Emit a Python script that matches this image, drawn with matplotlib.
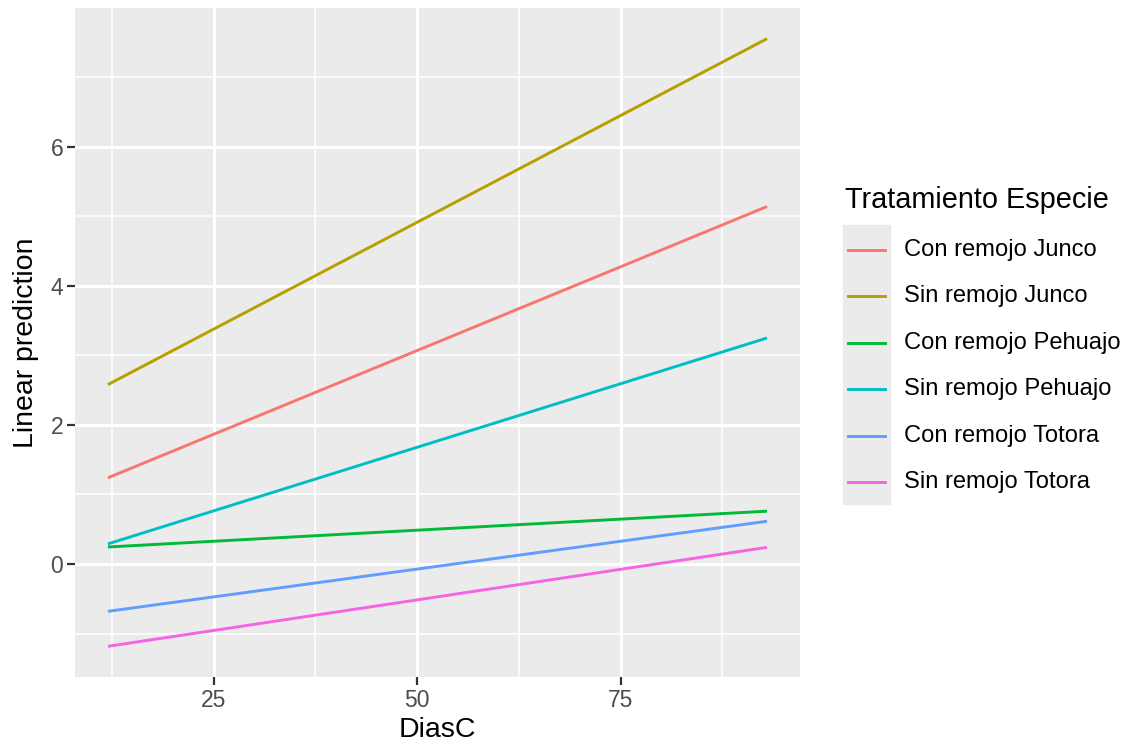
import matplotlib.pyplot as plt
import numpy as np

# Datos (prediccion lineal en los extremos de DiasC)
dias = [12, 93]
grupos = ["Con remojo Junco", "Sin remojo Junco", "Con remojo Pehuajo",
          "Sin remojo Pehuajo", "Con remojo Totora", "Sin remojo Totora"]
pred_inicio = [1.24, 2.58, 0.245, 0.29, -0.68, -1.183]
pred_fin = [5.14, 7.553, 0.76, 3.25, 0.615, 0.24]
colores = ["#F8766D", "#B79F00", "#00BA38", "#00BFC4", "#619CFF", "#F564E3"]

plt.rcParams['font.family'] = ['Liberation Sans', 'DejaVu Sans']

fig = plt.figure(figsize=(11.26, 7.45), dpi=100)
ax = fig.add_axes([75 / 1126, 1 - 676.7 / 745, 725 / 1126, 668.4 / 745])
ax.set_facecolor("#EBEBEB")

for g, y0, y1, c in zip(grupos, pred_inicio, pred_fin, colores):
    ax.plot(dias, [y0, y1], color=c, lw=2.1, solid_capstyle='butt')

# limites con expansion del 5% como ggplot
xr = dias[1] - dias[0]
ax.set_xlim(dias[0] - 0.05 * xr, dias[1] + 0.05 * xr)
ymin, ymax = min(pred_inicio + pred_fin), max(pred_inicio + pred_fin)
yr = ymax - ymin
ax.set_ylim(ymin - 0.05 * yr, ymax + 0.05 * yr)

ax.set_xticks([25, 50, 75])
ax.set_xticks([12.5, 37.5, 62.5, 87.5], minor=True)
ax.set_yticks([0, 2, 4, 6])
ax.set_yticks([-1, 1, 3, 5, 7], minor=True)
ax.grid(which='major', color='white', lw=2.2)
ax.grid(which='minor', color='white', lw=1.1)
ax.set_axisbelow(True)
for s in ax.spines.values():
    s.set_visible(False)
ax.tick_params(which='major', length=5.5, width=1.6, color='#333333',
               labelsize=16.5, labelcolor='#4D4D4D', pad=3)
ax.tick_params(which='minor', length=0)
ax.set_xlabel("DiasC", fontsize=20.5, labelpad=4)
ax.set_ylabel("Linear prediction", fontsize=20.5, labelpad=8)

# leyenda estilo ggplot
fig.text(845 / 1126, 1 - 200 / 745, "Tratamiento Especie", fontsize=20.8,
         va='center', ha='left')
key_top, step = 225, 46.5
fig.patches.append(plt.Rectangle((843 / 1126, 1 - (key_top + 6 * step) / 745),
                                 47 / 1126, 6 * step / 745,
                                 transform=fig.transFigure, color="#EBEBEB",
                                 zorder=0))
for i, (g, c) in enumerate(zip(grupos, colores)):
    yc = 1 - (key_top + 1.5 + step * (i + 0.5)) / 745
    fig.add_artist(plt.Line2D([848 / 1126, 885 / 1126], [yc, yc],
                              transform=fig.transFigure, color=c, lw=2.1))
    fig.text(904 / 1126, yc, g, fontsize=17.1, va='center', ha='left')

fig.savefig("out.png", dpi=100)
